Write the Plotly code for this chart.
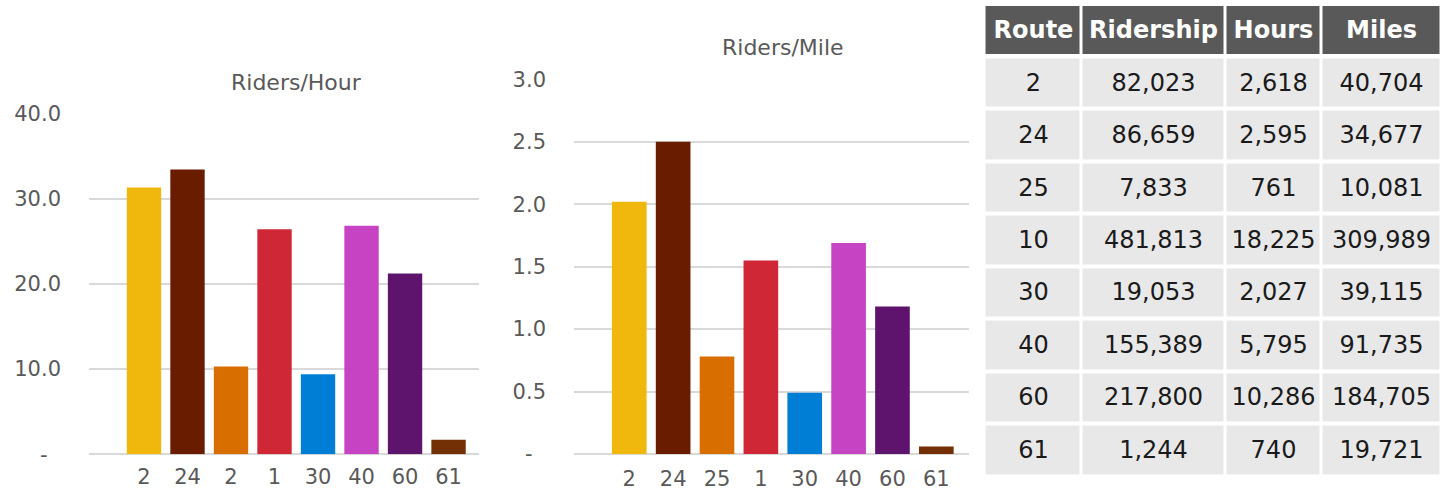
import plotly.graph_objects as go

# ---------------- data ----------------
hour_labels = ["2", "24", "2", "1", "30", "40", "60", "61"]
mile_labels = ["2", "24", "25", "1", "30", "40", "60", "61"]
riders_per_hour = [31.3, 33.4, 10.3, 26.4, 9.4, 26.8, 21.2, 1.7]
riders_per_mile = [2.02, 2.50, 0.78, 1.55, 0.49, 1.69, 1.18, 0.06]
bar_colors = ["#F0B70C", "#6A1C00", "#D86E00", "#CF2736", "#007ED6", "#C643C4", "#5E146D", "#733005"]

hour_ticks = [0, 10, 20, 30, 40]
hour_ticktext = ["-\u00a0\u00a0", "10.0", "20.0", "30.0", "40.0"]
mile_ticks = [0, 0.5, 1.0, 1.5, 2.0, 2.5, 3.0]
mile_ticktext = ["-\u00a0\u00a0", "0.5", "1.0", "1.5", "2.0", "2.5", "3.0"]

table_header = ["Route", "Ridership", "Hours", "Miles"]
table_routes = ["2", "24", "25", "10", "30", "40", "60", "61"]
table_ridership = [82023, 86659, 7833, 481813, 19053, 155389, 217800, 1244]
table_hours = [2618, 2595, 761, 18225, 2027, 5795, 10286, 740]
table_miles = [40704, 34677, 10081, 309989, 39115, 91735, 184705, 19721]

# ---------------- figure ----------------
W, H = 1448, 497
FONT = "DejaVu Sans"
GREY = "#595959"
GRID = "#d9d9d9"

fig = go.Figure()
idx = list(range(len(hour_labels)))

fig.add_trace(go.Bar(x=idx, y=riders_per_hour, marker=dict(color=bar_colors, line=dict(width=0)),
                     width=0.79, xaxis="x", yaxis="y", hoverinfo="skip"))
fig.add_trace(go.Bar(x=idx, y=riders_per_mile, marker=dict(color=bar_colors, line=dict(width=0)),
                     width=0.79, xaxis="x2", yaxis="y2", hoverinfo="skip"))

# ---- table drawn as heatmap bricks (header + body) ----
col_widths = [97, 144, 96, 120]
col_edges = [0]
for w in col_widths:
    col_edges.append(col_edges[-1] + w)
fmt = lambda v: f"{v:,}"
body_cols = [table_routes,
             [fmt(v) for v in table_ridership],
             [fmt(v) for v in table_hours],
             [fmt(v) for v in table_miles]]
n_rows = len(table_routes)
body_text = [[body_cols[c][r] for c in range(4)] for r in range(n_rows)]

fig.add_trace(go.Heatmap(
    x=col_edges, y=[0, 1], z=[[1, 1, 1, 1]],
    text=[[f"<b>{h}</b>" for h in table_header]], texttemplate="%{text}",
    textfont=dict(family=FONT, size=24, color="white"),
    colorscale=[[0, GREY], [1, GREY]], showscale=False, xgap=3, ygap=4,
    xaxis="x3", yaxis="y3", hoverinfo="skip"))
fig.add_trace(go.Heatmap(
    x=col_edges, y=list(range(1, n_rows + 2)), z=[[0, 0, 0, 0] for _ in range(n_rows)],
    text=body_text, texttemplate="%{text}",
    textfont=dict(family=FONT, size=24, color="#1a1a1a"),
    colorscale=[[0, "#e8e8e8"], [1, "#e8e8e8"]], showscale=False, xgap=3, ygap=4,
    xaxis="x3", yaxis="y3", hoverinfo="skip"))

axis_font = dict(family=FONT, size=21, color=GREY)

fig.update_layout(
    width=W, height=H,
    margin=dict(l=0, r=0, t=0, b=0, pad=0, autoexpand=False),
    paper_bgcolor="white", plot_bgcolor="white",
    showlegend=False,
    xaxis=dict(domain=[89 / W, 479 / W], range=[-1.264, 7.70], tickvals=idx, ticktext=hour_labels,
               showgrid=False, zeroline=False, showline=False, ticks="", tickfont=axis_font,
               ticklabelstandoff=8, fixedrange=True, automargin=False),
    yaxis=dict(domain=[1 - 454.3 / H, 1 - 113.3 / H], range=[0, 40], tickvals=hour_ticks,
               ticktext=hour_ticktext, showgrid=True, gridcolor=GRID, gridwidth=1.5,
               zeroline=True, zerolinecolor=GRID, zerolinewidth=1.5, showline=False, ticks="",
               tickfont=axis_font, ticklabelstandoff=27, fixedrange=True, automargin=False),
    xaxis2=dict(domain=[574 / W, 969 / W], range=[-1.26, 7.745], tickvals=idx, ticktext=mile_labels,
                anchor="y2", showgrid=False, zeroline=False, showline=False, ticks="",
                tickfont=axis_font, ticklabelstandoff=10, fixedrange=True, automargin=False),
    yaxis2=dict(domain=[1 - 454 / H, 1 - 79.3 / H], range=[0, 3.0], tickvals=mile_ticks,
                ticktext=mile_ticktext, anchor="x2", showgrid=True, gridcolor=GRID, gridwidth=1.5,
                zeroline=True, zerolinecolor=GRID, zerolinewidth=1.5, showline=False, ticks="",
                tickfont=axis_font, ticklabelstandoff=27, fixedrange=True, automargin=False),
    xaxis3=dict(domain=[984.5 / W, 1441.5 / W], range=[col_edges[0], col_edges[-1]], anchor="y3",
                visible=False, fixedrange=True, automargin=False),
    yaxis3=dict(domain=[1 - 476 / H, 1 - 4 / H], range=[n_rows + 1, 0], anchor="x3",
                visible=False, fixedrange=True, automargin=False),
    annotations=[
        dict(text="Riders/Hour", x=296 / W, y=1 - 83 / H, xref="paper", yref="paper",
             xanchor="center", yanchor="middle", showarrow=False,
             font=dict(family=FONT, size=22, color=GREY)),
        dict(text="Riders/Mile", x=783 / W, y=1 - 48 / H, xref="paper", yref="paper",
             xanchor="center", yanchor="middle", showarrow=False,
             font=dict(family=FONT, size=22, color=GREY)),
    ],
)

fig.write_html("out.html")
